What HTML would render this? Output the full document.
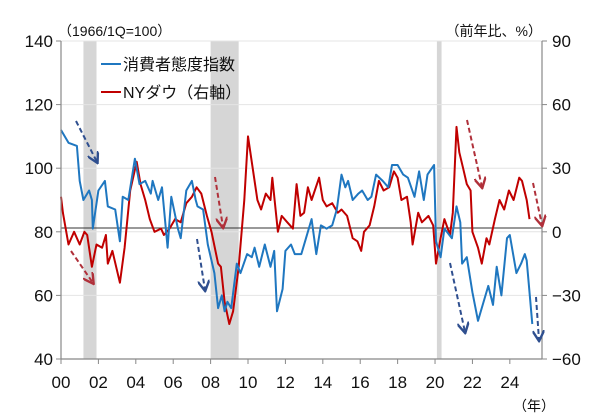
<!DOCTYPE html>
<html><head><meta charset="utf-8">
<style>
html,body{margin:0;padding:0;background:#fff;}
svg{display:block;font-family:"Liberation Sans","Noto Sans CJK JP",sans-serif;}
</style></head>
<body>
<svg id="chart" width="600" height="419" viewBox="0 0 600 419"></svg>
<script>
const xTicks = ["00","02","04","06","08","10","12","14","16","18","20","22","24"];
const leftTicks = [40,60,80,100,120,140];
const rightTicks = [-60,-30,0,30,60,90];
const recessions = [[2001.2,2001.9],[2008.0,2009.5],[2020.1,2020.35]];
// consumer sentiment: time (years since 2000) and index values
const sentTimes = [0,.4,.85, 1.0,1.2,1.5,1.65,1.7, 2.0,2.35,2.5,2.9, 3.15,3.3,3.6,3.95, 4.2,4.5,4.8,4.9, 5.2,5.4,5.7,5.9, 6.25,6.4,6.7, 7.0,7.2,7.3,7.6,7.85, 8.2,8.4,8.6,8.75,8.9, 9.1,9.4,9.6,9.95, 10.2,10.35,10.6,10.9, 11.2,11.4,11.55,11.85, 12.0,12.3,12.5,12.85, 13.1,13.4,13.65,13.9, 14.2,14.5,14.75, 15.0,15.2,15.35,15.6,15.9, 16.1,16.4,16.6,16.85, 17.2,17.5,17.7, 18.0,18.3,18.55,18.9, 19.15,19.4,19.6,19.95, 20.05,20.3,20.5,20.9, 21.15,21.35,21.45,21.7, 22.0,22.3,22.55,22.85, 23.1,23.3,23.55,23.85, 24.0,24.35,24.6,24.8,24.9, 25.2];
const sentiment = [112,108,107, 96,90,93,90,81, 93,96,88,87, 77,91,90,103, 95,96,92,96, 90,94,75,91, 81,78,93, 96,90,88,87,76, 67,56,60,55,58, 56,70,67,73, 72,75,69,76, 69,74,55,62, 74,76,73,73, 78,84,73,82, 81,82,87, 98,94,96,90,92, 93,90,91,98, 96,94,101, 101,98,97,91, 99,90,98,101, 77,72,81,78, 88,83,70,72, 61,52,57,63, 57,69,60,78, 79,67,70,73,71, 51];
// NY Dow YoY %: time (years since 2000) and values
const dowTimes = [0,.1,.4,.7, 1.0,1.25,1.4,1.65,1.9, 2.2,2.4,2.5,2.75, 3.15,3.4,3.7, 4.05,4.25,4.5,4.75, 5.0,5.35,5.5,5.8, 6.1,6.4,6.7, 7.0,7.25,7.5,7.8, 8.05,8.4,8.55,8.75, 9.0,9.2,9.5,9.8, 10.0,10.25,10.5,10.7,10.95, 11.2,11.3,11.6,11.8, 12.1,12.4,12.6,12.8, 13.0,13.2,13.4,13.8, 14.0,14.2,14.5,14.8, 15.0,15.3,15.6,15.85, 16.05,16.2,16.5,16.75, 17.0,17.25,17.55,17.8, 18.0,18.2,18.5,18.7,18.8, 19.1,19.3,19.65,19.9, 20.05,20.3,20.5,20.8,20.95, 21.15,21.3,21.5,21.7,21.9, 22.0,22.3,22.5,22.75,22.9, 23.2,23.45,23.7,23.95, 24.2,24.5,24.65,24.9, 25.05];
const dowYoY = [16.5,9,-6,0, -6,0,-1.5,-16.5,-6, -7.5,-1.5,-15,-9, -24,-7.5,19.5, 33,22.5,15,6, 0,1.5,-1.5,1.5, 6,4.5,13.5, 16.5,21,18,7.5, 0,-15,-16.5,-33, -43.5,-37.5,-16.5,15, 45,30,15,10.5,18, 15,25.5,0,7.5, 4.5,1.5,22.5,7.5, 9,21,15,25.5, 15,12,13.5,9, 10.5,7.5,-3,-4.5, -9,0,3,12, 24,19.5,21,28.5, 25.5,15,16.5,4.5,-6, 9,4.5,7.5,3, -15,-3,6,-1.5,9, 49.5,37.5,30,22.5,19.5, 0,-7.5,-15,-3,-6, 6,15,10.5,19.5, 15,25.5,24,15, 6];

const svg = document.getElementById('chart');
const NS = 'http://www.w3.org/2000/svg';
const X0=61, X1=542, Y0=2000, YR1=2025.72;
const xs = t => X0 + (t - Y0) * (X1 - X0) / (YR1 - Y0);
const yL = v => 359 - (v - 40) * (359 - 41) / 100;
const yR = v => yL(80 + v * 2 / 3);
function mk(tag, attrs, parent){ const e=document.createElementNS(NS,tag); for(const k in attrs) e.setAttribute(k,attrs[k]); (parent||svg).appendChild(e); return e; }

recessions.forEach(r=>{
  const e=mk('rect',{x:xs(r[0]),y:41,width:xs(r[1])-xs(r[0]),height:318,fill:'#d6d6d6'});
  
  
});
leftTicks.forEach(v=>{
  if(v===40) return;
  const g=mk('line',{x1:X0,x2:X1,y1:yL(v),y2:yL(v),stroke:'#e4e4e4','stroke-width':1});
  
  
});
const z=mk('line',{x1:X0,x2:X1,y1:228,y2:228,stroke:'#333','stroke-width':1});



function series(times, vals, yf, color, name){
  const pts = vals.map((v,i)=>xs(Y0 + times[i]).toFixed(1)+','+yf(v).toFixed(1)).join(' ');
  const p=mk('polyline',{points:pts,fill:'none',stroke:color,'stroke-width':2,'stroke-linejoin':'round'});
  
  
}
series(dowTimes, dowYoY, yR, '#c00000', 'dow-yoy-line');
series(sentTimes, sentiment, yL, '#1f77c0', 'consumer-sentiment-line');

mk('line',{x1:X0,x2:X0,y1:41,y2:359,stroke:'#888','stroke-width':1.2});
mk('line',{x1:X1,x2:X1,y1:41,y2:359,stroke:'#888','stroke-width':1.2});
mk('line',{x1:X0,x2:X1,y1:359,y2:359,stroke:'#888','stroke-width':1.2});

leftTicks.forEach(v=>{
  mk('line',{x1:X0-5,x2:X0,y1:yL(v),y2:yL(v),stroke:'#888'});
  const t=mk('text',{x:X0-8,y:yL(v)+6,'text-anchor':'end','font-size':17,fill:'#111'});
  t.textContent=v;
  
  
});
rightTicks.forEach(v=>{
  mk('line',{x1:X1,x2:X1+5,y1:yR(v),y2:yR(v),stroke:'#888'});
  const t=mk('text',{x:X1+10,y:yR(v)+6,'font-size':17,fill:'#111'});
  t.textContent=v<0?'\u2212'+(-v):v;
  
  
});
xTicks.forEach((lab,i)=>{
  const x=xs(Y0+i*2);
  mk('line',{x1:x,x2:x,y1:359,y2:364,stroke:'#888'});
  const t=mk('text',{x:x,y:388,'text-anchor':'middle','font-size':17,fill:'#111'});
  t.textContent=lab;
  
  
});
</script>
<svg style="position:absolute;left:0;top:0" width="600" height="419">
  <defs>
    <marker id="ab" viewBox="0 0 10 10" refX="8" refY="5" markerWidth="6" markerHeight="6" orient="auto"><path d="M0,0 L9,5 L0,10" fill="none" stroke="#2f4f8f" stroke-width="2"/></marker>
    <marker id="ar" viewBox="0 0 10 10" refX="8" refY="5" markerWidth="6" markerHeight="6" orient="auto"><path d="M0,0 L9,5 L0,10" fill="none" stroke="#b0303a" stroke-width="2"/></marker>
  </defs>
  <g fill="none" stroke-width="2" stroke-dasharray="5,3">
    <line x1="76" y1="121" x2="97" y2="162" stroke="#2f4f8f" marker-end="url(#ab)"/>
    <line x1="71" y1="251" x2="93" y2="283" stroke="#b0303a" marker-end="url(#ar)"/>
    <line x1="197" y1="239" x2="205" y2="290" stroke="#2f4f8f" marker-end="url(#ab)"/>
    <line x1="215" y1="177" x2="223" y2="227" stroke="#b0303a" marker-end="url(#ar)"/>
    <line x1="450" y1="263" x2="465" y2="332" stroke="#2f4f8f" marker-end="url(#ab)"/>
    <line x1="467" y1="120" x2="482" y2="187" stroke="#b0303a" marker-end="url(#ar)"/>
    <line x1="533" y1="183" x2="542" y2="225" stroke="#b0303a" marker-end="url(#ar)"/>
    <line x1="536" y1="297" x2="539" y2="340" stroke="#2f4f8f" marker-end="url(#ab)"/>
  </g>
  <g font-family="Liberation Sans, Noto Sans CJK JP, sans-serif" fill="#111">
    <text x="58" y="36" font-size="14">（1966/1Q=100）</text>
    <text x="542" y="36" font-size="14" text-anchor="end">（前年比、%）</text>
    <text x="555" y="411" font-size="14" text-anchor="end">（年）</text>
    <g>
      <line x1="101" y1="64" x2="121" y2="64" stroke="#1f77c0" stroke-width="2"/>
      <text x="123" y="70" font-size="16">消費者態度指数</text>
      <line x1="101" y1="92" x2="121" y2="92" stroke="#c00000" stroke-width="2"/>
      <text x="123" y="98" font-size="16">NYダウ（右軸）</text>
    </g>
  </g>
</svg>
</body></html>
